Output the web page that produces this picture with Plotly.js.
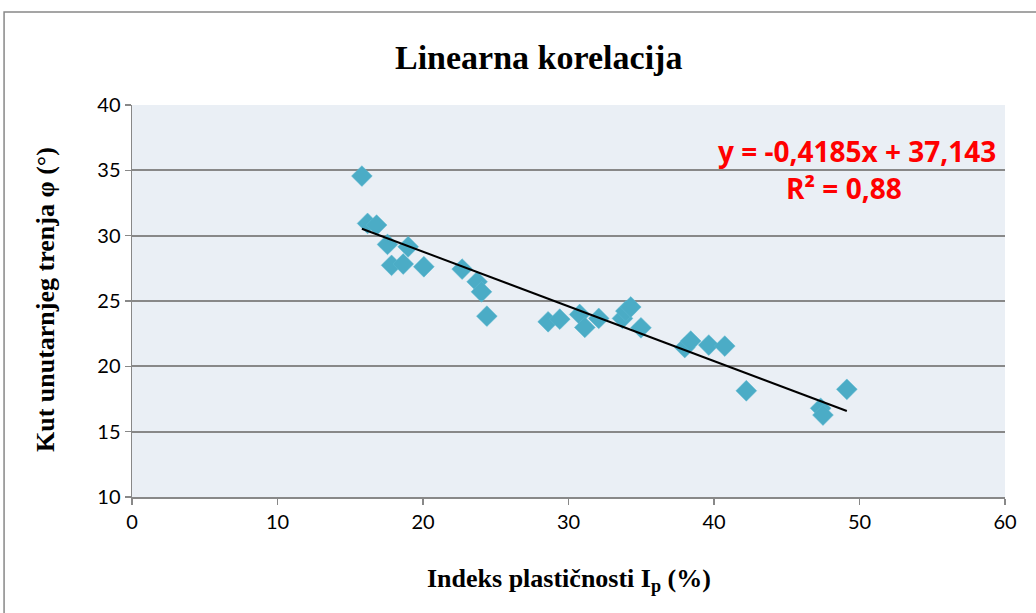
<!DOCTYPE html>
<html>
<head>
<meta charset="utf-8">
<script src="https://cdn.plot.ly/plotly-3.0.1.min.js"></script>
<style>
html,body{margin:0;padding:0;background:#fff;}
#chart{width:1036px;height:613px;}
</style>
</head>
<body>
<div id="chart"></div>
<script>
// Data
const plasticityIndex = [15.80, 16.19, 16.81, 17.56, 18.98, 17.84, 18.64, 20.06, 22.69, 23.72,
  24.02, 24.39, 28.60, 29.40, 30.77, 31.12, 32.08, 33.71, 33.94, 34.28,
  34.98, 37.99, 38.40, 39.64, 40.74, 42.22, 47.33, 47.49, 49.13];
const frictionAngle = [34.56, 30.94, 30.81, 29.33, 29.15, 27.73, 27.83, 27.62, 27.44, 26.47,
  25.70, 23.84, 23.41, 23.61, 23.97, 22.98, 23.67, 23.67, 24.23, 24.54,
  22.95, 21.44, 21.93, 21.63, 21.55, 18.13, 16.79, 16.27, 18.24];
// Trendline coefficients as printed on the chart
const slope = -0.4185;
const intercept = 37.143;
const equationText = "y = -0,4185x + 37,143";
const r2Text = "R² = 0,88";
const xTicks = [0, 10, 20, 30, 40, 50, 60];
const yTicks = [10, 15, 20, 25, 30, 35, 40];

const xMin = Math.min(...plasticityIndex);
const xMax = Math.max(...plasticityIndex);
const trendX = [xMin, xMax];
const trendY = trendX.map(v => slope * v + intercept);

const traces = [
  {
    x: plasticityIndex, y: frictionAngle, type: 'scatter', mode: 'markers',
    marker: {symbol: 'diamond', size: 16, color: '#4BACC6', line: {color: '#5FB8D0', width: 0.5}},
    hoverinfo: 'x+y', showlegend: false
  },
  {
    x: trendX, y: trendY, type: 'scatter', mode: 'lines',
    line: {color: '#000000', width: 2}, showlegend: false, hoverinfo: 'skip'
  }
];

const tickFont = {family: 'Lato, "Open Sans", sans-serif', size: 20, color: '#000'};
const serifBold = 'Liberation Serif, "Times New Roman", serif';
const W = 873.5, H = 392, L = 132, B = 497;

const layout = {
  width: 1036, height: 613,
  margin: {l: 132, r: 30.5, t: 105, b: 116},
  paper_bgcolor: '#ffffff',
  plot_bgcolor: '#EAEFF5',
  title: {text: ''},
  xaxis: {
    range: [0, 60], tickvals: xTicks, ticktext: xTicks.map(String),
    showgrid: false, zeroline: false,
    showline: true, linecolor: '#888888', linewidth: 1.5,
    ticks: 'outside', ticklen: 6, tickcolor: '#888888', tickwidth: 1.5,
    tickfont: tickFont
  },
  yaxis: {
    range: [10, 40], tickvals: yTicks, ticktext: yTicks.map(String),
    showgrid: true, gridcolor: '#888888', gridwidth: 2,
    zeroline: false,
    showline: true, linecolor: '#888888', linewidth: 1.5,
    ticks: 'outside', ticklen: 6, tickcolor: '#888888', tickwidth: 1.5,
    tickfont: tickFont
  },
  shapes: [
    {type: 'rect', xref: 'paper', yref: 'paper',
     x0: (4 - L) / W, x1: 1.3, y0: -0.4, y1: (B - 12) / H,
     line: {color: '#888888', width: 1.5}, fillcolor: 'rgba(0,0,0,0)', layer: 'below'}
  ],
  annotations: [
    {xref: 'paper', yref: 'paper', x: (539 - L) / W, y: (B - 57) / H,
     text: '<b>Linearna korelacija</b>', showarrow: false, xanchor: 'center', yanchor: 'middle',
     font: {family: serifBold, size: 34, color: '#000'}},
    {xref: 'paper', yref: 'paper', x: (569 - L) / W, y: (B - 580) / H,
     text: '<b>Indeks plastičnosti I<sub>p</sub> (%)</b>', showarrow: false, xanchor: 'center', yanchor: 'middle',
     font: {family: serifBold, size: 26, color: '#000'}},
    {xref: 'paper', yref: 'paper', x: (45 - L) / W, y: (B - 300) / H,
     text: '<b>Kut unutarnjeg trenja φ (°)</b>', showarrow: false, textangle: -90, xanchor: 'center', yanchor: 'middle',
     font: {family: serifBold, size: 26, color: '#000'}},
    {xref: 'paper', yref: 'paper', x: (857 - L) / W, y: (B - 151) / H,
     text: '<b>' + equationText + '</b>', showarrow: false, xanchor: 'center', yanchor: 'middle',
     font: {family: '"Open Sans", Lato, sans-serif', size: 28, color: '#FF0000'}},
    {xref: 'paper', yref: 'paper', x: (844 - L) / W, y: (B - 188) / H,
     text: '<b>' + r2Text + '</b>', showarrow: false, xanchor: 'center', yanchor: 'middle',
     font: {family: '"Open Sans", Lato, sans-serif', size: 28, color: '#FF0000'}}
  ]
};

Plotly.newPlot('chart', traces, layout, {displayModeBar: false, staticPlot: true});
</script>
</body>
</html>
